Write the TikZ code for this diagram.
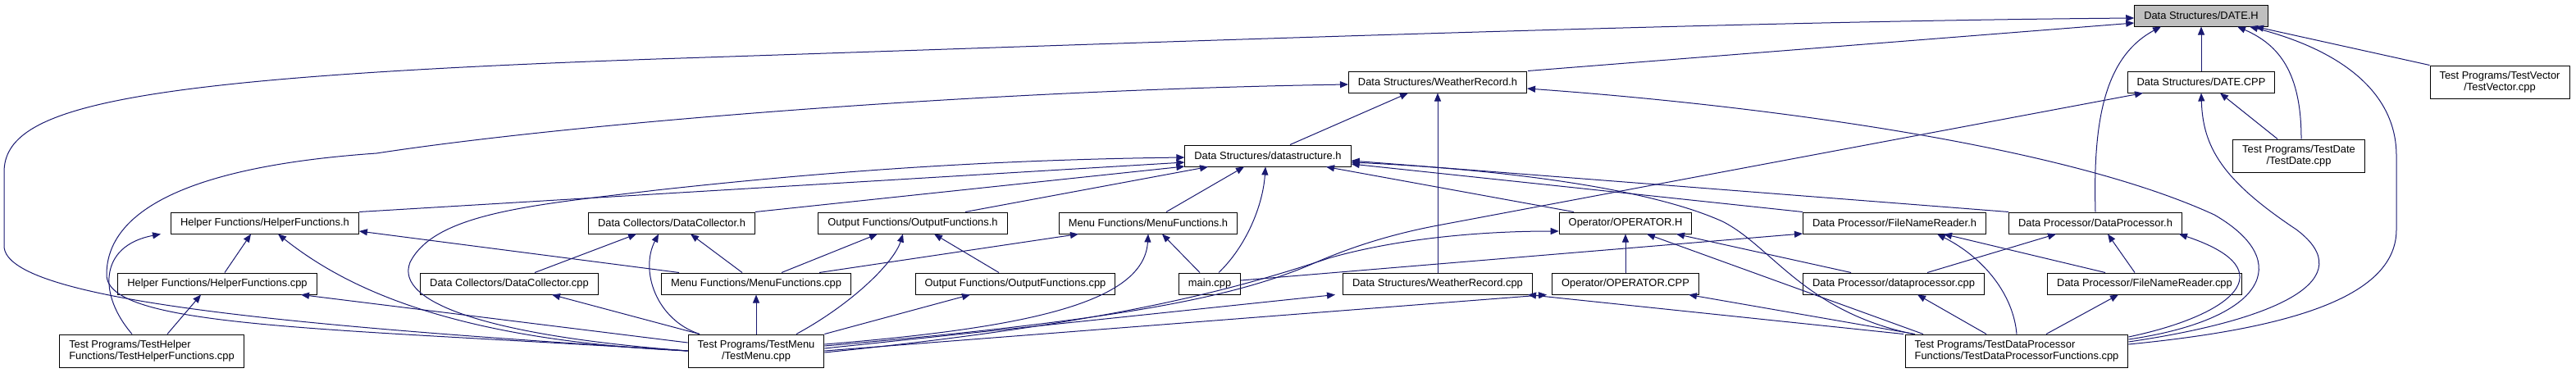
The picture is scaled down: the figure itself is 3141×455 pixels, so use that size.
\documentclass[tikz,border=0pt]{standalone}
\usepackage{fontspec}
\setmainfont{Liberation Sans}
\usepackage{xcolor}
\usepackage{tikz}
\usetikzlibrary{arrows.meta,positioning,calc}
\definecolor{edgeblue}{RGB}{25,25,112}

\begin{document}
\begin{tikzpicture}[
    x=1pt, y=-1pt,
    box/.style={rectangle, draw=black, line width=1pt, fill=white, minimum height=26pt, inner xsep=11.5pt, inner ysep=2pt, font=\fontsize{12.9}{14.5}\selectfont},
    hl/.style={box, fill=gray!50},
    box2/.style={box, minimum height=40pt, align=center},
    edge/.style={draw=edgeblue, line width=1pt, -{Triangle[length=10pt,width=8pt]}}
]
\useasboundingbox (0,0) rectangle (3141,455);

% Nodes, top row to bottom row
\node[hl]  (dateh) at (2684, 19) {Data Structures/DATE.H};
\node[box] (wrh) at (1753, 100) {Data Structures/WeatherRecord.h};
\node[box] (datecpp) at (2684, 100) {Data Structures/DATE.CPP};
\node[box2] (testvector) at (3048, 100) {Test Programs/TestVector\\/TestVector.cpp};
\node[box] (ds) at (1546, 190) {Data Structures/datastructure.h};
\node[box2] (testdate) at (2803, 190) {Test Programs/TestDate\\/TestDate.cpp};
\node[box] (hfh) at (323, 272) {Helper Functions/HelperFunctions.h};
\node[box] (dch) at (819, 272) {Data Collectors/DataCollector.h};
\node[box] (ofh) at (1113, 272) {Output Functions/OutputFunctions.h};
\node[box] (mfh) at (1400, 272) {Menu Functions/MenuFunctions.h};
\node[box] (oph) at (1982, 272) {Operator/OPERATOR.H};
\node[box] (fnrh) at (2310, 272) {Data Processor/FileNameReader.h};
\node[box] (dph) at (2555, 272) {Data Processor/DataProcessor.h};
\node[box] (hfcpp) at (265, 346) {Helper Functions/HelperFunctions.cpp};
\node[box] (dccpp) at (621, 346) {Data Collectors/DataCollector.cpp};
\node[box] (mfcpp) at (922, 346) {Menu Functions/MenuFunctions.cpp};
\node[box] (ofcpp) at (1238, 346) {Output Functions/OutputFunctions.cpp};
\node[box] (maincpp) at (1475, 346) {main.cpp};
\node[box] (wrcpp) at (1753, 346) {Data Structures/WeatherRecord.cpp};
\node[box] (opcpp) at (1982, 346) {Operator/OPERATOR.CPP};
\node[box] (dpcpp) at (2309, 346) {Data Processor/dataprocessor.cpp};
\node[box] (fnrcpp) at (2615, 346) {Data Processor/FileNameReader.cpp};
\node[box2, align=left] (testhelper) at (185, 428) {Test Programs/TestHelper\\Functions/TestHelperFunctions.cpp};
\node[box2] (testmenu) at (922, 428) {Test Programs/TestMenu\\/TestMenu.cpp};
\node[box2, align=left] (testdp) at (2459, 428) {Test Programs/TestDataProcessor\\Functions/TestDataProcessorFunctions.cpp};

% into DATE.H
\draw[edge] (testmenu.west) .. controls (400,400) and (5,370) .. (5,300) -- (5,210) .. controls (5,130) and (150,95) .. (800,72) .. controls (1400,52) and (2100,26) .. ([yshift=-3pt]dateh.west);
\draw[edge] ([xshift=110pt]wrh.north) -- ([yshift=-9pt]dateh.west);
\draw[edge] (dph.north) .. controls (2552,150) and (2565,70) .. ([xshift=-49pt]dateh.south);
\draw[edge] (datecpp) -- (dateh);
\draw[edge] ([xshift=3pt]testdate.north) .. controls (2806,90) and (2780,55) .. ([xshift=44pt]dateh.south);
\draw[edge] ([yshift=8pt]testdp.east) .. controls (2800,400) and (2922,360) .. (2922,280) -- (2922,190) .. controls (2922,110) and (2850,60) .. ([xshift=59pt]dateh.south);
\draw[edge] (testvector.north west) -- ([xshift=66pt]dateh.south);

% into DATE.CPP
\draw[edge] ([yshift=6pt]testmenu.east) .. controls (1350,392) and (1500,365) .. (1600,322) .. controls (1650,300) and (1700,285) .. (1753,275) -- ([xshift=-71pt]datecpp.south);
\draw[edge] ([yshift=11pt]testdp.east) .. controls (2780,390) and (2880,340) .. (2800,280) .. controls (2710,220) and (2686,180) .. (datecpp.south);
\draw[edge] ([xshift=-26pt]testdate.north) -- ([xshift=23pt]datecpp.south);

% into WeatherRecord.h
\draw[edge] (testmenu.west) .. controls (400,400) and (130,400) .. (130,335) .. controls (130,270) and (200,205) .. (459,187) .. controls (700,150) and (1200,110) .. ([yshift=-3pt]wrh.west);
\draw[edge] ([xshift=27pt]ds.north) -- ([xshift=-36pt]wrh.south);
\draw[edge] (wrcpp) -- (wrh);
\draw[edge] ([yshift=14pt]testdp.east) .. controls (2760,390) and (2800,320) .. (2700,262) .. controls (2500,170) and (2100,125) .. ([yshift=-8pt]wrh.east);

% into datastructure.h
\draw[edge] (testmenu.west) .. controls (600,410) and (480,370) .. (500,320) .. controls (530,260) and (650,250) .. (800,232) .. controls (1000,210) and (1200,195) .. ([yshift=-2pt]ds.west);
\draw[edge] (hfh.north east) -- ([yshift=-8pt]ds.west);
\draw[edge] (dch.north east) -- ([yshift=-13pt]ds.west);
\draw[edge] ([xshift=64pt]ofh.north) -- ([xshift=-73pt]ds.south);
\draw[edge] ([xshift=22pt]mfh.north) -- ([xshift=-29pt]ds.south);
\draw[edge] ([xshift=11pt]maincpp.north) .. controls (1520,300) and (1540,250) .. ([xshift=-3pt]ds.south);
\draw[edge] ([xshift=-63pt]oph.north) -- ([xshift=71pt]ds.south);
\draw[edge] (fnrh.north west) -- ([yshift=-10pt]ds.east);
\draw[edge] (dph.north west) -- ([yshift=-6pt]ds.east);
\draw[edge] ([xshift=-126pt]testdp.north) .. controls (2200,380) and (2160,300) .. (2100,270) .. controls (2000,225) and (1800,205) .. ([yshift=-8pt]ds.east);

% into HelperFunctions.h / .cpp
\draw[edge] ([xshift=9pt]hfcpp.north) -- ([xshift=-17pt]hfh.south);
\draw[edge] ([xshift=-24pt]testhelper.north) .. controls (120,360) and (120,300) .. ([xshift=-127pt]hfh.south);
\draw[edge] (testmenu.west) .. controls (550,415) and (420,350) .. ([xshift=16pt]hfh.south);
\draw[edge] ([xshift=-94pt]mfcpp.north) -- ([yshift=-10pt]hfh.east);
\draw[edge] ([xshift=19pt]testhelper.north) -- ([xshift=-20pt]hfcpp.south);
\draw[edge] ([yshift=10pt]testmenu.west) -- ([xshift=102pt]hfcpp.south);

% into DataCollector.h / .cpp
\draw[edge] ([xshift=31pt]dccpp.north) -- ([xshift=-43pt]dch.south);
\draw[edge] ([xshift=-69pt]testmenu.north) .. controls (800,390) and (780,330) .. ([xshift=-16pt]dch.south);
\draw[edge] ([xshift=-17pt]mfcpp.north) -- ([xshift=23pt]dch.south);
\draw[edge] ([xshift=-69pt]testmenu.north) -- ([xshift=52pt]dccpp.south);

% into OutputFunctions.h / .cpp
\draw[edge] ([xshift=31pt]mfcpp.north) -- ([xshift=-43pt]ofh.south);
\draw[edge] ([xshift=49pt]testmenu.north) .. controls (1040,370) and (1090,320) .. ([xshift=-12pt]ofh.south);
\draw[edge] ([xshift=-20pt]ofcpp.north) -- ([xshift=26pt]ofh.south);
\draw[edge] (testmenu.north east) -- ([xshift=-55pt]ofcpp.south);

% into MenuFunctions.h / .cpp
\draw[edge] ([xshift=77pt]mfcpp.north) -- ([xshift=-85pt]mfh.south);
\draw[edge] ([yshift=8pt]testmenu.east) .. controls (1250,400) and (1395,370) .. (mfh.south);
\draw[edge] ([xshift=-12pt]maincpp.north) -- ([xshift=17pt]mfh.south);
\draw[edge] (testmenu) -- (mfcpp);

% into WeatherRecord.cpp and OPERATOR
\draw[edge] ([yshift=3pt]testmenu.east) -- ([xshift=-125pt]wrcpp.south);
\draw[edge] ([xshift=-138pt]testdp.north) -- ([xshift=110pt]wrcpp.south);
\draw[edge] (testmenu.east) -- ([xshift=-96pt]opcpp.south);
\draw[edge] ([xshift=-124pt]testdp.north) -- ([xshift=77pt]opcpp.south);
\draw[edge] ([yshift=-2pt]testmenu.east) .. controls (1350,395) and (1500,355) .. (1620,315) .. controls (1700,292) and (1800,282) .. ([yshift=-10pt]oph.west);
\draw[edge] (opcpp) -- (oph);
\draw[edge] ([xshift=-114pt]testdp.north) -- ([xshift=26pt]oph.south);
\draw[edge] ([xshift=-52pt]dpcpp.north) -- ([xshift=62pt]oph.south);

% into FileNameReader.h and DataProcessor.h
\draw[edge] ([yshift=4pt]maincpp.east) -- ([yshift=-13pt]fnrh.west);
\draw[edge] ([xshift=-48pt]fnrcpp.north) -- ([xshift=60pt]fnrh.south);
\draw[edge] (testdp.north) .. controls (2455,360) and (2420,315) .. ([xshift=52pt]fnrh.south);
\draw[edge] ([xshift=41pt]dpcpp.north) -- ([xshift=-48pt]dph.south);
\draw[edge] ([xshift=-12pt]fnrcpp.north) -- ([xshift=15pt]dph.south);
\draw[edge] ([yshift=17pt]testdp.east) .. controls (2720,385) and (2790,330) .. ([xshift=102pt]dph.south);
\draw[edge] ([xshift=-37pt]testdp.north) -- ([xshift=29pt]dpcpp.south);
\draw[edge] ([xshift=36pt]testdp.north) -- ([xshift=-32pt]fnrcpp.south);

\end{tikzpicture}
\end{document}
